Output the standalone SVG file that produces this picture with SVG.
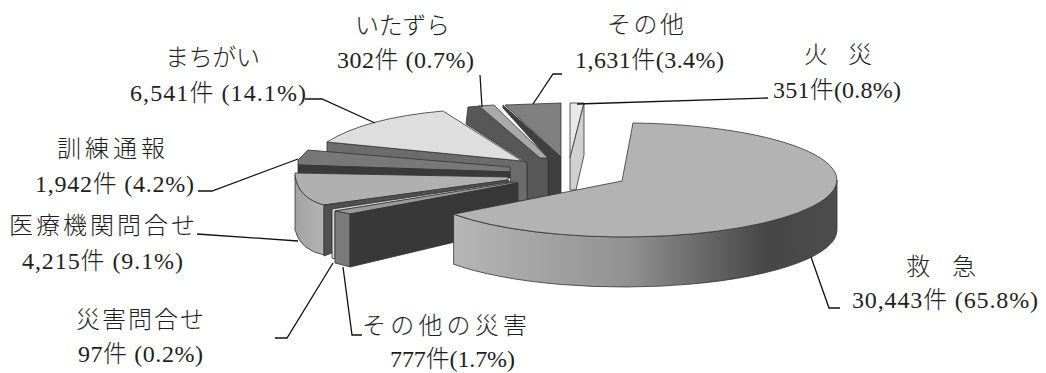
<svg xmlns="http://www.w3.org/2000/svg" width="1046" height="373" viewBox="0 0 1046 373">
<style>
.s{stroke:#333;stroke-width:0.8;stroke-linejoin:round}
.lead{fill:none;stroke:#111;stroke-width:1.3}
.t{font-family:"Liberation Serif","Noto Sans CJK JP",serif;font-size:24px;font-weight:300;fill:#1e1e1e}
</style>
<defs>
<linearGradient id="gSide" gradientUnits="userSpaceOnUse" x1="453" y1="0" x2="837" y2="0">
<stop offset="0" stop-color="#b6b6b6"/>
<stop offset="0.45" stop-color="#929292"/>
<stop offset="0.82" stop-color="#464646"/>
<stop offset="1" stop-color="#4c4c4c"/>
</linearGradient>
<linearGradient id="gMed" gradientUnits="userSpaceOnUse" x1="295" y1="0" x2="324" y2="0">
<stop offset="0" stop-color="#a2a2a2"/>
<stop offset="1" stop-color="#b4b4b4"/>
</linearGradient>
</defs>
<rect width="1046" height="373" fill="#fff"/>

<g id="slice-kasai">
<polygon class="s" fill="#e8e8e8" points="570,103 584,103 570,158"/>
<polygon class="s" fill="#d0d0d0" points="584,103 584,155 576,190 570,190 570,158"/>
<text class="t" x="804" y="63" textLength="68" lengthAdjust="spacing">火 災</text>
<text class="t" x="773" y="98" textLength="128" lengthAdjust="spacing">351件(0.8%)</text>
</g>

<g id="slice-sonota">
<polygon class="s" fill="#404040" points="503,105 561,157 561,194 548,197 548,158 503,108"/>
<polygon class="s" fill="#808080" points="505,105 561,103 561,157"/>
<text class="t" x="607" y="33" textLength="77" lengthAdjust="spacing">その他</text>
<text class="t" x="575" y="68" textLength="149" lengthAdjust="spacing">1,631件(3.4%)</text>
</g>

<g id="slice-itazura">
<polygon class="s" fill="#575757" points="468,107 480,106 540,158 548,158 548,198 527,201 527,163 466,124"/>
<polygon class="s" fill="#a9a9a9" points="479,106 494,105 548,158 540,158"/>
<text class="t" x="355" y="34" textLength="95" lengthAdjust="spacing">いたずら</text>
<text class="t" x="337" y="68" textLength="137" lengthAdjust="spacing">302件 (0.7%)</text>
</g>

<g id="slice-machigai">
<polygon class="s" fill="#6c6c6c" points="327,142 522,161 527,163 527,200 512,202 510,172 327,153"/>
<path class="s" fill="#dedede" d="M327,142 Q365,118 443,111 L522,161 Z"/>
<text class="t" x="165" y="66" textLength="95" lengthAdjust="spacing">まちがい</text>
<text class="t" x="130" y="101" textLength="176" lengthAdjust="spacing">6,541件 (14.1%)</text>
</g>

<g id="slice-kunren">
<polygon class="s" fill="#787878" points="298,160 308,150 510,167 510,172 298,165"/>
<polygon class="s" fill="#3a3a3a" points="298,165 510,172 510,178 298,173"/>
<text class="t" x="57" y="157" textLength="108" lengthAdjust="spacing">訓練通報</text>
<text class="t" x="35" y="192" textLength="159" lengthAdjust="spacing">1,942件 (4.2%)</text>
</g>

<g id="slice-iryo">
<path class="s" fill="url(#gMed)" d="M295,175 Q298,198 324,205 L324,255 Q300,250 295,230 Z"/>
<path class="s" fill="#b0b0b0" d="M295,173 L508,177 L508,180 L324,205 Q298,198 295,175 Z"/>
<polygon class="s" fill="#505050" points="324,205 508,180 510,182 332,209 332,253 324,256"/>
<text class="t" x="9" y="234" textLength="186" lengthAdjust="spacing">医療機関問合せ</text>
<text class="t" x="22" y="269" textLength="161" lengthAdjust="spacing">4,215件 (9.1%)</text>
</g>

<g id="slice-saigai-toiawase">
<polygon class="s" fill="#d8d8d8" points="332,209 510,182 513,183 335,211 335,259 332,258"/>
<text class="t" x="76" y="328" textLength="128" lengthAdjust="spacing">災害問合せ</text>
<text class="t" x="78" y="362" textLength="125" lengthAdjust="spacing">97件 (0.2%)</text>
</g>

<g id="slice-sonota-saigai">
<polygon class="s" fill="#9a9a9a" points="335,211 515,182 518,183 350,214"/>
<polygon class="s" fill="#7a7a7a" points="335,211 350,214 350,267 335,263"/>
<polygon class="s" fill="#383838" points="350,214 518,183 518,227 350,267"/>
<text class="t" x="362" y="334" textLength="165" lengthAdjust="spacing">その他の災害</text>
<text class="t" x="390" y="367" textLength="125" lengthAdjust="spacing">777件(1.7%)</text>
</g>

<g id="slice-kyukyu">
<path class="s" fill="url(#gSide)" d="M453.6,214.2 A213,57 0 0 0 837,180 L837,230 A213,57 0 0 1 453.6,264.2 Z"/>
<path class="s" fill="#b3b3b3" d="M622,181 L633,123 A213,57 0 1 1 453.6,214.2 Z"/>
<text class="t" x="906" y="275" textLength="70" lengthAdjust="spacing">救 急</text>
<text class="t" x="852" y="308" textLength="186" lengthAdjust="spacing">30,443件 (65.8%)</text>
</g>

<g id="connectors">
<polyline class="lead" points="480,75 482,107"/>
<polyline class="lead" points="562,74 553,74 533,104"/>
<polyline class="lead" points="768,98 577,104"/>
<polyline class="lead" points="305,99 322,99 375,123"/>
<polyline class="lead" points="198,191 212,191 298,159"/>
<polyline class="lead" points="197,234 298,241"/>
<polyline class="lead" points="275,338 287,338 333,263"/>
<polyline class="lead" points="343,267 352,335 362,335"/>
<polyline class="lead" points="811,257 829,308 840,308"/>
</g>
</svg>
